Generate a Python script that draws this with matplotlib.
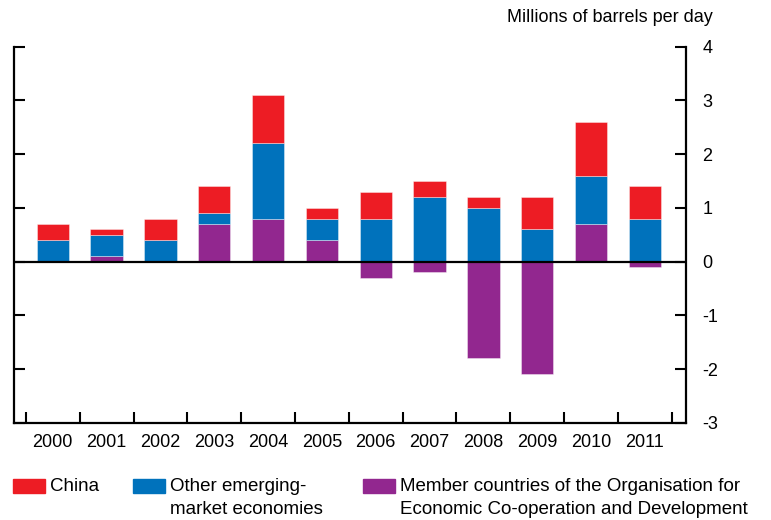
import numpy as np
import matplotlib.pyplot as plt
from matplotlib.patches import Rectangle

years = ["2000", "2001", "2002", "2003", "2004", "2005",
         "2006", "2007", "2008", "2009", "2010", "2011"]
china = [0.3, 0.1, 0.4, 0.5, 0.9, 0.2, 0.5, 0.3, 0.2, 0.6, 1.0, 0.6]
other_em = [0.4, 0.4, 0.4, 0.2, 1.4, 0.4, 0.8, 1.2, 1.0, 0.6, 0.9, 0.8]
oecd = [0.0, 0.1, 0.0, 0.7, 0.8, 0.4, -0.3, -0.2, -1.8, -2.1, 0.7, -0.1]

c_china = "#ED1C24"
c_other = "#0072BC"
c_oecd = "#92278F"

plt.rcParams['font.family'] = ['Liberation Sans', 'DejaVu Sans']


def draw_plot():
    fig = plt.figure(figsize=(7.71, 5.20), dpi=100)
    ax = fig.add_axes([0.0182, 0.187, 0.8712, 0.7231])

    x = np.arange(len(years))
    oecd_a = np.array(oecd)
    other_a = np.array(other_em)
    china_a = np.array(china)
    base = np.clip(oecd_a, 0, None)

    edge = dict(edgecolor=(1, 1, 1, 0.45), linewidth=0.6, width=0.6)
    ax.bar(x, oecd_a, color=c_oecd, **edge)
    ax.bar(x, other_a, bottom=base, color=c_other, **edge)
    ax.bar(x, china_a, bottom=base + other_a, color=c_china, **edge)

    ax.axhline(0, color="black", linewidth=1.6, zorder=5)

    ax.set_xlim(-0.72, 11.76)
    ax.set_ylim(-3, 4)

    ax.spines['top'].set_visible(False)
    for s in ['left', 'right', 'bottom']:
        ax.spines[s].set_linewidth(1.6)

    ax.set_yticks(range(-3, 5))
    ax.set_yticklabels([str(v) for v in range(-3, 5)])
    ax.yaxis.set_ticks_position('both')
    ax.tick_params(axis='y', direction='in', length=8, width=1.5,
                   labelleft=False, labelright=True, labelsize=13, pad=12)

    ax.set_xticks(x)
    ax.set_xticklabels(years)
    ax.set_xticks(np.arange(len(years) + 1) - 0.5, minor=True)
    ax.tick_params(axis='x', which='major', length=0, labelsize=13, pad=8)
    ax.tick_params(axis='x', which='minor', direction='in', length=8, width=1.5)

    fig.text(713 / 771, 1 - 22.5 / 520, "Millions of barrels per day",
             ha='right', va='baseline', fontsize=13)

    # legend drawn by hand
    items = [(13, 50, c_china, ["China"]),
             (133, 170, c_other, ["Other emerging-", "market economies"]),
             (363, 400, c_oecd, ["Member countries of the Organisation for",
                                 "Economic Co-operation and Development"])]
    for px, tx, col, lines in items:
        fig.patches.append(Rectangle((px / 771, 1 - 492.5 / 520), 32 / 771, 13.5 / 520,
                                     transform=fig.transFigure, color=col))
        for i, line in enumerate(lines):
            fig.text(tx / 771, 1 - (491 + 23.5 * i) / 520, line, ha='left',
                     va='baseline', fontsize=13.5)

    fig.savefig("out.png", dpi=100)


draw_plot()
